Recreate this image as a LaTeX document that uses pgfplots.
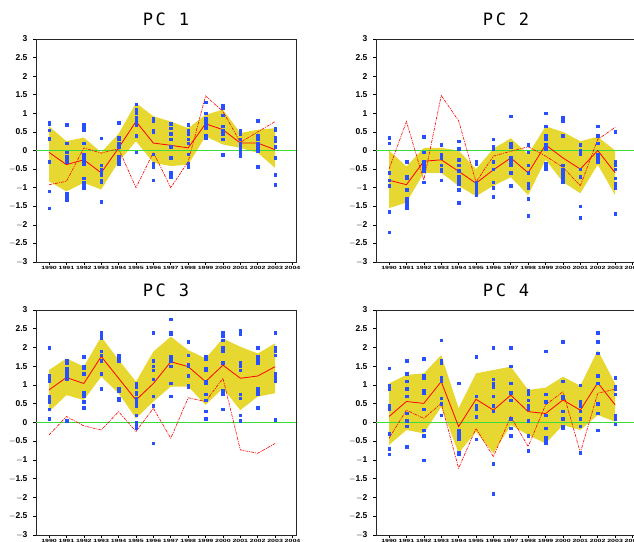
\documentclass[border=0pt]{standalone}
\usepackage{fontspec}
\setmainfont{Liberation Sans}
\newfontfamily\titlefont[LetterSpace=15]{DejaVu Sans Mono}
\usepackage{pgfplots}
\pgfplotsset{compat=1.18}
\usepackage{pgfplotstable}

\definecolor{band}{RGB}{230,216,48}
\definecolor{pts}{RGB}{40,80,255}
\definecolor{zline}{RGB}{60,220,60}

\pgfplotstableread{
year mean obs
1990 -0.05 -0.92
1991 -0.38 -0.83
1992 -0.25 0.07
1993 -0.6 -0.07
1994 0.07 0.05
1995 0.78 -1.0
1996 0.2 -0.05
1997 0.14 -1.0
1998 0.07 -0.3
1999 0.72 1.47
2000 0.56 1.05
2001 0.2 0.22
2002 0.2 0.5
2003 0.02 0.78
}\pa
\pgfplotstableread{
year mean obs
1990 -0.8 -0.5
1991 -0.92 0.78
1992 -0.29 -0.8
1993 -0.25 1.48
1994 -0.56 0.8
1995 -0.88 -0.85
1996 -0.52 -0.15
1997 -0.2 -0.02
1998 -0.6 0.1
1999 0.15 -0.15
2000 -0.2 -0.45
2001 -0.5 -0.95
2002 0.0 0.3
2003 -0.6 0.62
}\pb
\pgfplotstableread{
year mean obs
1990 0.87 -0.33
1991 1.2 0.16
1992 1.04 -0.09
1993 1.76 -0.2
1994 1.18 0.29
1995 0.6 -0.24
1996 1.04 0.38
1997 1.62 -0.42
1998 1.49 0.66
1999 1.09 0.56
2000 1.53 1.18
2001 1.18 -0.73
2002 1.24 -0.82
2003 1.49 -0.56
}\pc
\pgfplotstableread{
year mean obs
1990 0.16 -0.42
1991 0.56 0.33
1992 0.51 0.11
1993 1.09 0.51
1994 -0.11 -1.22
1995 0.62 -0.16
1996 0.33 -0.91
1997 0.73 0.16
1998 0.29 -0.64
1999 0.24 0.47
2000 0.6 0.82
2001 0.33 -0.8
2002 1.06 0.78
2003 0.47 0.89
}\pd

\pgfplotsset{
  pcax/.style={
    scale only axis, width=260pt,
    xmin=1989.25, xmax=2004.2, ymin=-3, ymax=3,
    ytick={-3,-2.5,-2,-1.5,-1,-0.5,0,0.5,1,1.5,2,2.5,3},
    yticklabels={$-$3,$-$2.5,$-$2,$-$1.5,$-$1,$-$0.5,0,0.5,1,1.5,2,2.5,3},
    xtick={1990,1991,1992,1993,1994,1995,1996,1997,1998,1999,2000,2001,2002,2003,2004},
    xticklabels={1990,1991,1992,1993,1994,1995,1996,1997,1998,1999,2000,2001,2002,2003,2004},
    tick align=outside, major tick length=3pt,
    tick style={black, line width=0.6pt},
    xtick pos=bottom, ytick pos=left,
    axis line style={line width=0.9pt, black!85},
    yticklabel style={font=\fontsize{8.5}{8.5}\selectfont\bfseries, xshift=-2pt},
    xticklabel style={font=\fontsize{7}{7}\selectfont\bfseries, yscale=0.65, yshift=1pt},
    title style={at={(0.5,1)}, anchor=south, yshift=4pt, font=\fontsize{17}{17}\selectfont\titlefont},
    clip=true,
  },
  ptsty/.style={only marks, mark=square*, mark size=1.3pt, color=pts, mark options={draw=pts, fill=pts}},
  meansty/.style={red, line width=0.8pt, mark=none},
  obssty/.style={red, line width=0.6pt, mark=none, dash pattern=on 3pt off 1pt on 1pt off 1pt},
  bandsty/.style={fill=band, draw=none, mark=none},
}

\begin{document}
\begin{tikzpicture}
\useasboundingbox (0pt,0pt) rectangle (634pt,-541pt);

% ---------------- PC 1
\begin{axis}[pcax, height=223pt, at={(36pt,-262pt)}, anchor=south west, title={PC 1}]
\addplot[bandsty] coordinates {
(1990,0.65) (1991,0.25) (1992,0.35) (1993,-0.05) (1994,0.45) (1995,1.28) (1996,0.92) (1997,0.78) (1998,0.6) (1999,0.96) (2000,1.1) (2001,0.47) (2002,0.56) (2003,0.6)
(2003,-0.47) (2002,-0.06) (2001,0.07) (2000,0.16) (1999,0.38) (1998,-0.38) (1997,-0.42) (1996,-0.33) (1995,0.25) (1994,-0.3) (1993,-1.05) (1992,-0.87) (1991,-1.1) (1990,-0.83)
} -- cycle;
\addplot[zline, line width=1.3pt] coordinates {(1989.25,0) (2004.2,0)};
\addplot[ptsty] coordinates {
(1990,0.75) (1990,0.72) (1990,0.55) (1990,0.33) (1990,0.3) (1990,-0.3) (1990,-1.1) (1990,-1.55)
(1991,0.7) (1991,0.68) (1991,0.2) (1991,-0.05) (1991,-0.15) (1991,-0.25) (1991,-0.3) (1991,-1.15) (1991,-1.25) (1991,-1.33)
(1992,0.7) (1992,0.6) (1992,0.55) (1992,0.2) (1992,-0.1) (1992,-0.2) (1992,-0.3) (1992,-0.35) (1992,-0.75) (1992,-0.85) (1992,-0.9) (1992,-1.0)
(1993,0.33) (1993,-0.4) (1993,-0.5) (1993,-0.6) (1993,-0.65) (1993,-0.8) (1993,-0.85) (1993,-1.38)
(1994,0.75) (1994,0.35) (1994,0.3) (1994,0.2) (1994,0.1) (1994,-0.15) (1994,-0.25) (1994,-0.35)
(1995,1.25) (1995,1.1) (1995,1.0) (1995,0.9) (1995,0.8) (1995,0.7) (1995,0.4) (1995,-0.05)
(1996,0.85) (1996,0.8) (1996,0.55) (1996,0.5) (1996,-0.1) (1996,-0.35) (1996,-0.4) (1996,-0.45) (1996,-0.8)
(1997,0.72) (1997,0.6) (1997,0.45) (1997,0.3) (1997,0.1) (1997,-0.2) (1997,-0.6) (1997,-0.7)
(1998,0.7) (1998,0.55) (1998,0.45) (1998,0.3) (1998,0.2) (1998,-0.1) (1998,-0.35) (1998,-0.45)
(1999,1.3) (1999,1.0) (1999,0.85) (1999,0.75) (1999,0.65) (1999,0.6) (1999,0.4) (1999,0.35)
(2000,1.2) (2000,1.15) (2000,0.95) (2000,0.65) (2000,0.55) (2000,0.45) (2000,0.3) (2000,-0.12)
(2001,0.55) (2001,0.45) (2001,0.3) (2001,0.2) (2001,0.1) (2001,0.0) (2001,-0.1) (2001,-0.15)
(2002,0.8) (2002,0.4) (2002,0.3) (2002,0.2) (2002,0.1) (2002,0.05) (2002,0.0) (2002,-0.43)
(2003,0.6) (2003,0.55) (2003,0.35) (2003,0.25) (2003,0.1) (2003,-0.2) (2003,-0.65) (2003,-0.92)
};
\addplot[meansty] table[x=year,y=mean]{\pa};
\addplot[obssty] table[x=year,y=obs]{\pa};
\end{axis}

% ---------------- PC 2
\begin{axis}[pcax, height=223pt, at={(376pt,-262pt)}, anchor=south west, title={PC 2}]
\addplot[bandsty] coordinates {
(1990,0.0) (1991,-0.43) (1992,0.07) (1993,0.07) (1994,0.0) (1995,-0.5) (1996,0.05) (1997,0.33) (1998,-0.1) (1999,0.65) (2000,0.5) (2001,0.25) (2002,0.37) (2003,0.0)
(2003,-1.2) (2002,-0.38) (2001,-1.15) (2000,-0.85) (1999,-0.25) (1998,-1.2) (1997,-0.72) (1996,-0.95) (1995,-1.23) (1994,-0.95) (1993,-0.6) (1992,-0.6) (1991,-1.4) (1990,-1.55)
} -- cycle;
\addplot[zline, line width=1.3pt] coordinates {(1989.25,0) (2004.2,0)};
\addplot[ptsty] coordinates {
(1990,0.35) (1990,0.2) (1990,-0.6) (1990,-0.8) (1990,-0.95) (1990,-1.65) (1990,-2.2)
(1991,-0.3) (1991,-0.7) (1991,-0.75) (1991,-1.05) (1991,-1.3) (1991,-1.4) (1991,-1.5) (1991,-1.55)
(1992,0.37) (1992,-0.05) (1992,-0.3) (1992,-0.4) (1992,-0.45) (1992,-0.5) (1992,-0.55) (1992,-0.85)
(1993,0.15) (1993,-0.1) (1993,-0.2) (1993,-0.4) (1993,-0.5) (1993,-0.55) (1993,-0.8)
(1994,0.25) (1994,0.05) (1994,-0.25) (1994,-0.4) (1994,-0.55) (1994,-0.7) (1994,-0.8) (1994,-0.9) (1994,-1.05) (1994,-1.4)
(1995,-0.3) (1995,-0.35) (1995,-0.85) (1995,-0.95) (1995,-1.05) (1995,-1.15) (1995,-1.2)
(1996,0.3) (1996,0.1) (1996,0.05) (1996,-0.3) (1996,-0.5) (1996,-0.85) (1996,-1.0) (1996,-1.25)
(1997,0.92) (1997,0.2) (1997,0.1) (1997,-0.2) (1997,-0.3) (1997,-0.4) (1997,-0.6) (1997,-0.95)
(1998,0.15) (1998,-0.05) (1998,-0.4) (1998,-0.6) (1998,-0.9) (1998,-1.0) (1998,-1.3) (1998,-1.75)
(1999,1.0) (1999,0.65) (1999,0.4) (1999,0.3) (1999,0.15) (1999,0.05) (1999,-0.35) (1999,-0.45) (1999,-0.5)
(2000,0.9) (2000,0.8) (2000,0.4) (2000,-0.4) (2000,-0.5) (2000,-0.6) (2000,-0.7) (2000,-0.8) (2000,-0.85)
(2001,0.15) (2001,0.0) (2001,-0.1) (2001,-0.5) (2001,-0.7) (2001,-1.5) (2001,-1.8)
(2002,0.65) (2002,0.4) (2002,0.2) (2002,-0.1) (2002,-0.15) (2002,-0.25) (2002,-0.3)
(2003,0.5) (2003,-0.3) (2003,-0.4) (2003,-0.5) (2003,-0.75) (2003,-0.9) (2003,-1.0) (2003,-1.7)
};
\addplot[meansty] table[x=year,y=mean]{\pb};
\addplot[obssty] table[x=year,y=obs]{\pb};
\end{axis}

% ---------------- PC 3
\begin{axis}[pcax, height=225pt, at={(36pt,-535pt)}, anchor=south west, title={PC 3}]
\addplot[bandsty] coordinates {
(1990,1.4) (1991,1.71) (1992,1.49) (1993,2.29) (1994,1.67) (1995,1.09) (1996,1.89) (1997,2.29) (1998,1.93) (1999,1.71) (2000,2.24) (2001,2.02) (2002,1.84) (2003,2.11)
(2003,0.78) (2002,0.69) (2001,0.33) (2000,0.91) (1999,0.47) (1998,0.96) (1997,0.96) (1996,0.56) (1995,0.11) (1994,0.78) (1993,1.22) (1992,0.6) (1991,0.73) (1990,0.29)
} -- cycle;
\addplot[zline, line width=1.3pt] coordinates {(1989.25,0) (2004.2,0)};
\addplot[ptsty] coordinates {
(1990,2.0) (1990,1.25) (1990,1.2) (1990,1.1) (1990,0.7) (1990,0.65) (1990,0.6) (1990,0.55) (1990,0.35) (1990,0.1)
(1991,1.65) (1991,1.6) (1991,1.45) (1991,1.4) (1991,1.35) (1991,1.3) (1991,1.2) (1991,1.15) (1991,0.05)
(1992,1.75) (1992,1.5) (1992,1.45) (1992,1.3) (1992,0.8) (1992,0.75) (1992,0.7) (1992,0.55) (1992,0.4)
(1993,2.4) (1993,2.3) (1993,2.25) (1993,1.9) (1993,1.8) (1993,1.65) (1993,1.3) (1993,0.9)
(1994,1.8) (1994,1.75) (1994,1.65) (1994,0.9) (1994,0.85) (1994,0.65) (1994,0.6)
(1995,1.05) (1995,0.95) (1995,0.8) (1995,0.75) (1995,0.65) (1995,0.55) (1995,0.45) (1995,0.2) (1995,0.0) (1995,-0.1) (1995,-0.15)
(1996,2.4) (1996,1.65) (1996,1.5) (1996,1.4) (1996,1.15) (1996,0.7) (1996,0.45) (1996,-0.55)
(1997,2.75) (1997,2.4) (1997,2.35) (1997,1.75) (1997,1.65) (1997,1.5) (1997,1.05) (1997,0.7)
(1998,2.15) (1998,1.8) (1998,1.55) (1998,1.5) (1998,1.25) (1998,1.0) (1998,0.95)
(1999,1.75) (1999,1.7) (1999,1.45) (1999,1.4) (1999,1.1) (1999,1.05) (1999,0.75) (1999,0.6) (1999,0.3) (1999,0.1)
(2000,2.4) (2000,2.3) (2000,2.2) (2000,2.0) (2000,1.9) (2000,1.6) (2000,0.85) (2000,0.75) (2000,0.35)
(2001,2.45) (2001,2.35) (2001,1.6) (2001,1.5) (2001,1.4) (2001,0.75) (2001,0.65) (2001,0.2) (2001,0.05)
(2002,2.0) (2002,1.75) (2002,1.65) (2002,1.6) (2002,0.9) (2002,0.85) (2002,0.75) (2002,0.4)
(2003,2.4) (2003,2.0) (2003,1.95) (2003,1.9) (2003,1.8) (2003,1.3) (2003,1.2) (2003,1.1) (2003,0.08)
};
\addplot[meansty] table[x=year,y=mean]{\pc};
\addplot[obssty] table[x=year,y=obs]{\pc};
\end{axis}

% ---------------- PC 4
\begin{axis}[pcax, height=225pt, at={(376pt,-535pt)}, anchor=south west, title={PC 4}]
\addplot[bandsty] coordinates {
(1990,1.04) (1991,1.27) (1992,1.31) (1993,1.8) (1994,0.38) (1995,1.31) (1996,1.4) (1997,1.49) (1998,0.87) (1999,0.93) (2000,1.22) (2001,0.98) (2002,1.93) (2003,1.04)
(2003,0.02) (2002,0.2) (2001,-0.2) (2000,-0.07) (1999,-0.56) (1998,-0.33) (1997,-0.07) (1996,-0.82) (1995,-0.24) (1994,-0.82) (1993,0.42) (1992,-0.29) (1991,-0.2) (1990,-0.6)
} -- cycle;
\addplot[zline, line width=1.3pt] coordinates {(1989.25,0) (2004.2,0)};
\addplot[ptsty] coordinates {
(1990,1.45) (1990,1.0) (1990,0.9) (1990,0.45) (1990,0.35) (1990,-0.3) (1990,-0.7) (1990,-0.85)
(1991,1.65) (1991,1.3) (1991,1.1) (1991,0.9) (1991,0.7) (1991,0.25) (1991,0.05) (1991,-0.1) (1991,-0.65)
(1992,1.7) (1992,1.25) (1992,1.2) (1992,0.85) (1992,0.8) (1992,0.35) (1992,-0.2) (1992,-0.35) (1992,-1.0)
(1993,2.2) (1993,1.65) (1993,1.6) (1993,1.2) (1993,1.1) (1993,0.65) (1993,0.5) (1993,0.2)
(1994,1.05) (1994,-0.2) (1994,-0.3) (1994,-0.4) (1994,-0.45) (1994,-0.8) (1994,-0.85)
(1995,1.75) (1995,0.7) (1995,0.45) (1995,0.35) (1995,0.15) (1995,-0.45)
(1996,2.0) (1996,1.15) (1996,1.05) (1996,0.95) (1996,0.7) (1996,0.45) (1996,0.3) (1996,-1.1) (1996,-1.9)
(1997,2.0) (1997,1.5) (1997,1.05) (1997,0.8) (1997,0.6) (1997,0.1) (1997,-0.15) (1997,-0.35)
(1998,0.85) (1998,0.75) (1998,0.6) (1998,0.45) (1998,0.35) (1998,0.05) (1998,-0.35) (1998,-0.75)
(1999,1.9) (1999,0.75) (1999,0.55) (1999,0.2) (1999,-0.15) (1999,-0.4) (1999,-0.5) (1999,-0.55)
(2000,2.15) (2000,1.1) (2000,0.7) (2000,0.65) (2000,0.3) (2000,0.1) (2000,-0.1) (2000,-0.15)
(2001,1.0) (2001,0.55) (2001,0.45) (2001,0.3) (2001,0.1) (2001,-0.1) (2001,-0.8)
(2002,2.4) (2002,2.15) (2002,1.85) (2002,1.25) (2002,1.05) (2002,0.5) (2002,0.25) (2002,-0.2)
(2003,1.2) (2003,0.95) (2003,0.9) (2003,0.75) (2003,0.2) (2003,0.1) (2003,-0.05)
};
\addplot[meansty] table[x=year,y=mean]{\pd};
\addplot[obssty] table[x=year,y=obs]{\pd};
\end{axis}
\end{tikzpicture}
\end{document}
